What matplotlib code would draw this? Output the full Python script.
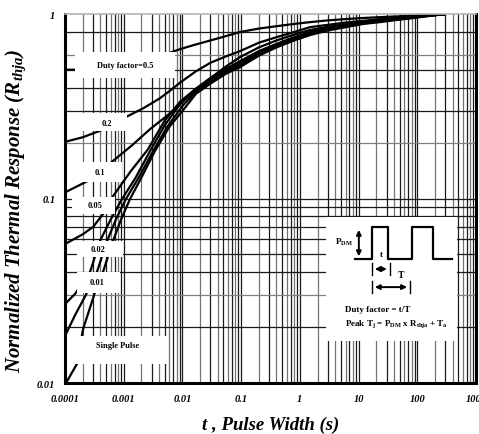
import numpy as np
import matplotlib
matplotlib.use("Agg")
import matplotlib.pyplot as plt
from matplotlib.patches import Rectangle

plt.rcParams['font.family'] = ['Liberation Serif', 'DejaVu Serif']
plt.rcParams['mathtext.fontset'] = 'custom'
plt.rcParams['mathtext.rm'] = 'Liberation Serif:bold'
plt.rcParams['mathtext.it'] = 'Liberation Serif:bold:italic'
plt.rcParams['mathtext.bf'] = 'Liberation Serif:bold'

# ─── DATA ──────────────────────────────────────────────────────────────────────

x_ticks = [1e-4, 1e-3, 1e-2, 1e-1, 1, 10, 100, 1000]
x_tick_labels = ['0.0001', '0.001', '0.01', '0.1', '1', '10', '100', '1000']
y_ticks = [0.01, 0.1, 1]
y_tick_labels = ['0.01', '0.1', '1']

# horizontal grid values that appear in the reference (no 0.7 / 0.9 lines)
y_grid_black = [0.02, 0.04, 0.05, 0.06, 0.07, 0.08, 0.09, 0.1, 0.3, 0.4, 0.5, 0.8]
y_grid_grey = [0.03, 0.2, 0.6]

t_d50 = [1e-4, 1.48e-4, 3e-4, 6e-4, 1.4e-3, 3.17e-3, 5.5e-3, 9.1e-3, 0.017, 0.03, 0.055,
         0.0957, 0.2, 0.4, 0.8, 1.49, 3, 6, 12, 23.2, 45, 80, 150, 295]
z_d50 = [0.50, 0.50, 0.505, 0.52, 0.545, 0.577, 0.61, 0.646, 0.685, 0.72, 0.76,
         0.80, 0.835, 0.86, 0.885, 0.905, 0.925, 0.94, 0.953, 0.963, 0.972, 0.98, 0.99, 1.0]

t_d20 = [1e-4, 2e-4, 3.94e-4, 7e-4, 1.12e-3, 2.2e-3, 4.15e-3, 6.5e-3, 9.1e-3, 0.017, 0.03,
         0.055, 0.0957, 0.2, 0.4, 0.8, 1.49, 3, 6, 12, 23.2, 45, 80, 150, 295]
z_d20 = [0.203, 0.215, 0.233, 0.255, 0.278, 0.31, 0.35, 0.39, 0.425, 0.49, 0.545,
         0.59, 0.63, 0.70, 0.75, 0.80, 0.85, 0.875, 0.90, 0.92, 0.94, 0.955, 0.97, 0.985, 1.0]

t_d10 = [1e-4, 2.37e-4, 4e-4, 6.57e-4, 1.4e-3, 2.81e-3, 5e-3, 8.09e-3, 0.015, 0.03, 0.055,
         0.0957, 0.2, 0.4, 0.8, 1.49, 3, 6, 12, 23.2, 45, 80, 150, 295]
z_d10 = [0.108, 0.124, 0.14, 0.16, 0.195, 0.238, 0.275, 0.313, 0.38, 0.45, 0.52,
         0.585, 0.66, 0.72, 0.775, 0.82, 0.855, 0.88, 0.905, 0.93, 0.95, 0.965, 0.98, 1.0]

t_d05 = [1e-4, 2e-4, 3e-4, 4.44e-4, 6.57e-4, 1.3e-3, 2.59e-3, 5e-3, 9.1e-3, 0.017, 0.03,
         0.055, 0.0957, 0.2, 0.4, 0.8, 1.49, 3, 6, 12, 23.2, 45, 80, 150, 295]
z_d05 = [0.0567, 0.064, 0.0701, 0.0824, 0.103, 0.14, 0.185, 0.265, 0.335, 0.395, 0.45,
         0.505, 0.556, 0.63, 0.69, 0.75, 0.80, 0.84, 0.87, 0.895, 0.92, 0.94, 0.96, 0.98, 1.0]

t_d02 = [1e-4, 1.48e-4, 2.67e-4, 3.94e-4, 6e-4, 9.35e-4, 1.6e-3, 2.81e-3, 5e-3, 9.1e-3,
         0.017, 0.03, 0.055, 0.0957, 0.2, 0.4, 0.8, 1.49, 3, 6, 12, 23.2, 45, 80, 150, 295]
z_d02 = [0.0268, 0.0304, 0.040, 0.0589, 0.077, 0.0994, 0.13, 0.181, 0.25, 0.325,
         0.39, 0.44, 0.495, 0.543, 0.615, 0.68, 0.74, 0.79, 0.83, 0.865, 0.895, 0.92, 0.94, 0.96, 0.98, 1.0]

t_d01 = [1e-4, 1.5e-4, 2.2e-4, 3.5e-4, 5.2e-4, 7.5e-4, 1.09e-3, 1.8e-3, 3.17e-3, 5.5e-3,
         0.0102, 0.017, 0.03, 0.055, 0.0957, 0.2, 0.4, 0.8, 1.49, 3, 6, 12, 23.2, 45, 80, 150, 295]
z_d01 = [0.018, 0.0235, 0.0295, 0.040, 0.0589, 0.078, 0.0994, 0.13, 0.181, 0.245,
         0.32, 0.38, 0.43, 0.485, 0.529, 0.605, 0.67, 0.73, 0.78, 0.825, 0.86, 0.89, 0.915, 0.935, 0.955, 0.978, 1.0]

t_single = [1.04e-4, 1.6e-4, 2.03e-4, 3.24e-4, 4.44e-4, 6.57e-4, 9e-4, 1.28e-3, 2e-3, 3.4e-3,
            6e-3, 0.011, 0.017, 0.03, 0.055, 0.0957, 0.2, 0.4, 0.8, 1.49, 3, 6, 12, 23.2,
            45, 80, 150, 295]
z_single = [0.01, 0.0127, 0.0196, 0.031, 0.040, 0.0589, 0.077, 0.0994, 0.13, 0.181,
            0.245, 0.31, 0.37, 0.42, 0.475, 0.516, 0.595, 0.66, 0.72, 0.77, 0.815, 0.85, 0.885, 0.905,
            0.93, 0.95, 0.975, 1.0]

series = [(t_d50, z_d50), (t_d20, z_d20), (t_d10, z_d10), (t_d05, z_d05),
          (t_d02, z_d02), (t_d01, z_d01), (t_single, z_single)]

# ─── PLOT ──────────────────────────────────────────────────────────────────────

fig = plt.figure(figsize=(4.79, 4.35), dpi=100)
ax = fig.add_axes([0.1357, 0.1172, 0.858, 0.848])
ax.set_xscale('log')
ax.set_yscale('log')
ax.set_xlim(1e-4, 1000)
ax.set_ylim(0.01, 1)

# dense grid at 1..9 of every decade
for dec in range(-4, 3):
    for m in range(1, 10):
        v = m * 10.0 ** dec
        if v > 1e-4:
            ax.axvline(v, color='0.1' if m % 2 else '0.45', lw=0.9, zorder=1)
for v in y_grid_black:
    ax.axhline(v, color='0.1', lw=0.9, zorder=1)
for v in y_grid_grey:
    ax.axhline(v, color='0.5', lw=0.9, zorder=1)

for t, z in series:
    ax.plot(t, z, color='black', lw=1.6, zorder=2, solid_joinstyle='round')

# white label boxes over the grid
boxes = [
    ((0.024, 0.827), 0.244, 0.070, 'Duty factor=0.5', (0.146, 0.862)),
    ((0.029, 0.683), 0.122, 0.049, '0.2', (0.102, 0.705)),
    ((0.024, 0.545), 0.115, 0.054, '0.1', (0.085, 0.572)),
    ((0.017, 0.458), 0.105, 0.046, '0.05', (0.073, 0.482)),
    ((0.029, 0.341), 0.112, 0.044, '0.02', (0.080, 0.363)),
    ((0.029, 0.244), 0.105, 0.057, '0.01', (0.078, 0.274)),
    ((0.005, 0.0515), 0.243, 0.0755, 'Single Pulse', (0.127, 0.103)),
]
for xy, w, h, label, txy in boxes:
    ax.add_patch(Rectangle(xy, w, h, transform=ax.transAxes, facecolor='white',
                           edgecolor='none', zorder=3))
    ax.text(txy[0], txy[1], label, transform=ax.transAxes, fontsize=6,
            fontweight='bold', ha='center', va='center', zorder=4)

# inset with pulse diagram
tr = ax.transAxes
ax.add_patch(Rectangle((0.635, 0.114), 0.319, 0.336, transform=tr,
                       facecolor='white', edgecolor='none', zorder=3))
wx = [0.705, 0.747, 0.747, 0.786, 0.786, 0.844, 0.844, 0.895, 0.895, 0.942]
wy = [0.336, 0.336, 0.4228, 0.4228, 0.336, 0.336, 0.4228, 0.4228, 0.336, 0.336]
ax.plot(wx, wy, transform=tr, color='black', lw=1.6, zorder=4)
arr = dict(arrowstyle='<|-|>', color='black', lw=1.4, mutation_scale=7)
ax.annotate('', xy=(0.715, 0.4228), xytext=(0.715, 0.336), xycoords=tr,
            arrowprops=arr, zorder=4)
ax.text(0.700, 0.385, r'P$\mathrm{_{DM}}$', transform=tr, fontsize=6.5,
        fontweight='bold', ha='right', va='center', zorder=4)
ax.annotate('', xy=(0.747, 0.309), xytext=(0.790, 0.309), xycoords=tr,
            arrowprops=arr, zorder=4)
ax.plot([0.747, 0.747], [0.292, 0.326], transform=tr, color='black', lw=1, zorder=4)
ax.plot([0.790, 0.790], [0.292, 0.326], transform=tr, color='black', lw=1, zorder=4)
ax.text(0.769, 0.350, 't', transform=tr, fontsize=6.5, fontweight='bold',
        ha='center', va='center', zorder=4)
ax.annotate('', xy=(0.747, 0.260), xytext=(0.839, 0.260), xycoords=tr,
            arrowprops=arr, zorder=4)
ax.plot([0.747, 0.747], [0.243, 0.277], transform=tr, color='black', lw=1, zorder=4)
ax.plot([0.839, 0.839], [0.243, 0.277], transform=tr, color='black', lw=1, zorder=4)
ax.text(0.818, 0.295, 'T', transform=tr, fontsize=7, fontweight='bold',
        ha='center', va='center', zorder=4)
ax.text(0.681, 0.200, 'Duty factor = t/T', transform=tr, fontsize=6.5,
        fontweight='bold', ha='left', va='center', zorder=4)
ax.text(0.681, 0.163,
        r'Peak T$\mathrm{_j}$ = P$\mathrm{_{DM}}$ x R$\mathrm{_{thja}}$ + T$\mathrm{_a}$',
        transform=tr, fontsize=6.5, fontweight='bold', ha='left', va='center', zorder=4)

# axes styling
ax.set_xticks(x_ticks)
ax.set_xticklabels(x_tick_labels)
ax.set_yticks(y_ticks)
ax.set_yticklabels(y_tick_labels)
ax.minorticks_off()
ax.tick_params(axis='x', length=0, pad=8)
ax.tick_params(axis='y', length=0, pad=7)
for lab in ax.get_xticklabels() + ax.get_yticklabels():
    lab.set_fontsize(7.5)
    lab.set_fontweight('bold')
    lab.set_fontstyle('italic')
for side in ('left', 'bottom', 'right'):
    ax.spines[side].set_linewidth(2.2)
ax.spines['top'].set_linewidth(1.2)
ax.spines['top'].set_color('0.7')

ax.set_xlabel('t , Pulse Width (s)', fontsize=13.5, fontweight='bold',
              fontstyle='italic', labelpad=9)
ax.set_ylabel(r'Normalized Thermal Response (R$_{thja}$)', fontsize=15,
              fontweight='bold', fontstyle='italic')
ax.yaxis.set_label_coords(-0.09, 0.47)

fig.savefig('out.png', dpi=100)
